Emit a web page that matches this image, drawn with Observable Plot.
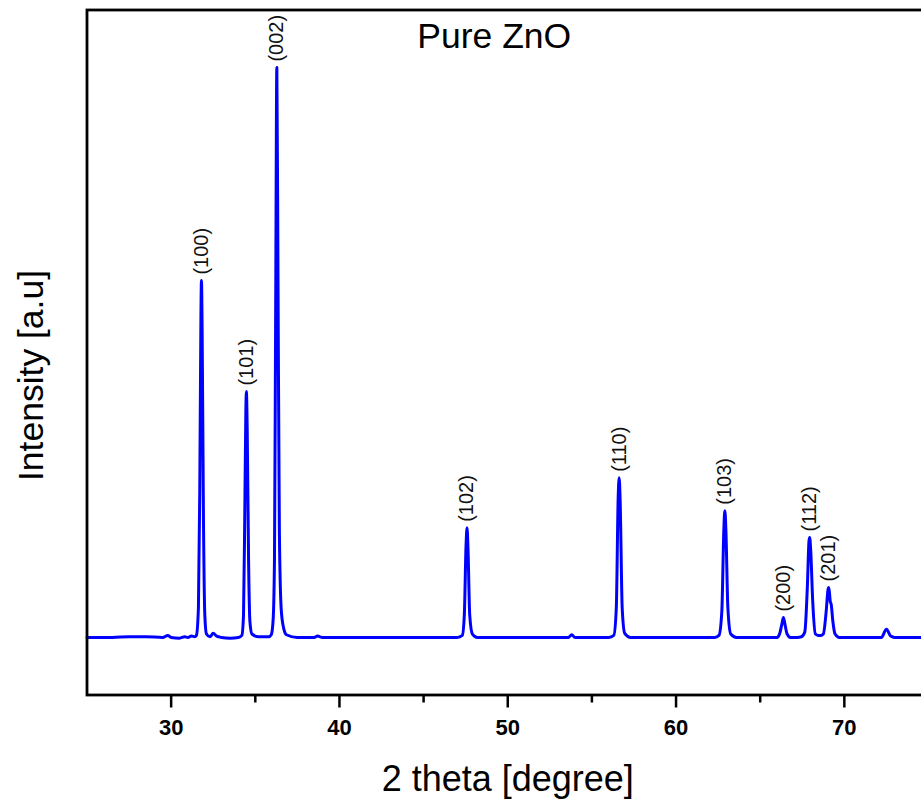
<!DOCTYPE html>
<html><head><meta charset="utf-8">
<script src="https://cdn.jsdelivr.net/npm/d3@7"></script>
<script src="https://cdn.jsdelivr.net/npm/@observablehq/plot@0.6"></script>
<style>
html,body{margin:0;padding:0;background:#fff;overflow:hidden;}
#chart svg{display:block;max-width:none !important;width:928px !important;height:799px !important;}
</style>
</head><body><div id="chart"></div>
<script>
// Diffractogram: 2-theta (degree) and intensity (a.u.)
const twoTheta = [
  25.0, 26.5, 27.5, 28.5, 29.5, 29.8, 30.0, 30.5, 30.8, 31.0, 31.2, 31.4,
  31.50, 31.62, 31.70, 31.77, 31.80, 31.84, 31.92, 32.00, 32.10, 32.30, 32.50, 32.70, 33.0, 33.5, 34.0, 34.20,
  34.30, 34.38, 34.44, 34.47, 34.52, 34.60, 34.68, 34.80, 35.2, 35.8,
  35.95, 36.06, 36.14, 36.21, 36.28, 36.35, 36.43, 36.54, 36.68, 36.85, 37.5, 38.5, 38.7, 39.0, 40.0, 42.0, 44.0, 46.0, 47.0,
  47.30, 47.42, 47.52, 47.58, 47.64, 47.74, 47.90, 48.2, 50.0, 52.0, 53.6, 53.8, 54.0, 56.0,
  56.30, 56.45, 56.56, 56.62, 56.68, 56.80, 56.95, 57.3, 59.0, 61.0, 62.3,
  62.55, 62.72, 62.84, 62.90, 62.96, 63.08, 63.25, 63.6, 65.0, 66.0,
  66.15, 66.30, 66.38, 66.48, 66.60, 66.8, 67.2, 67.45,
  67.65, 67.80, 67.90, 67.94, 68.00, 68.12, 68.28, 68.45, 68.6,
  68.75, 68.92, 69.03, 69.08, 69.16, 69.22, 69.32, 69.45, 69.7, 71.0, 72.2, 72.5, 72.75, 73.0, 75.0
];
const intensity = [
  84, 84, 85, 85, 84, 87, 84, 83, 85, 84, 86, 85,
  87, 127, 297, 557, 605, 537, 257, 117, 89, 85, 90, 86, 84, 83, 84, 87,
  117, 277, 417, 443, 387, 197, 107, 89, 85, 85,
  88, 110, 200, 560, 916, 600, 240, 125, 98, 88, 84, 84, 86, 84, 84, 84, 84, 84, 84,
  87, 117, 217, 244, 212, 117, 89, 84, 84, 84, 84, 88, 84, 84,
  87, 127, 287, 317, 282, 127, 90, 84, 84, 84, 84,
  87, 122, 242, 269, 242, 127, 89, 84, 84, 84,
  89, 105, 113, 102, 89, 84, 84, 85,
  92, 157, 225, 230, 212, 137, 89, 87, 87,
  89, 122, 154, 157, 137, 132, 107, 89, 84, 84, 84, 96, 86, 84, 84
];
const peakLabels = ["(100)", "(101)", "(002)", "(102)", "(110)", "(103)", "(200)", "(112)", "(201)"];
const peakPositions = [31.80, 34.47, 36.28, 47.58, 56.62, 62.90, 66.38, 67.94, 69.08];
const peakHeights = [605, 443, 916, 244, 317, 269, 113, 230, 157];
const majorTicks = [30, 40, 50, 60, 70];
const minorTicks = [35, 45, 55, 65];

const curve = twoTheta.map((t, i) => ({t, v: intensity[i]}));
const peaks = peakLabels.map((label, i) => ({label, t: peakPositions[i], v: peakHeights[i]}));

const chart = Plot.plot({
  width: 928,
  height: 799,
  marginLeft: 86.5,
  marginRight: 0,
  marginTop: 9.5,
  marginBottom: 104.5,
  style: {fontFamily: "'Liberation Sans', Arial, sans-serif", background: "#fff", color: "#000", overflow: "visible"},
  x: {domain: [25, 75]},
  y: {domain: [0, 1000], axis: null},
  marks: [
    Plot.line(curve, {x: "t", y: "v", stroke: "#0000ff", strokeWidth: 3, curve: "monotone-x"}),
    Plot.text(peaks, {x: "t", y: "v", text: "label", rotate: -90, textAnchor: "start", lineAnchor: "middle", dy: -6, fontSize: 20, fill: "#111"}),
    Plot.axisX({ticks: majorTicks, tickSize: 13, tickPadding: 11, fontSize: 22, fontWeight: "bold", strokeWidth: 2.5, label: null, tickFormat: d => String(d)}),
    Plot.axisX({ticks: minorTicks, tickSize: 8, strokeWidth: 2.5, text: null, label: null}),
    Plot.frame({stroke: "#000", strokeWidth: 2.8}),
    Plot.text(["Pure ZnO"], {frameAnchor: "top", dx: -13.5, dy: 12.5, lineAnchor: "top", textAnchor: "middle", fontSize: 35.5, fill: "#000"}),
    Plot.text(["2 theta [degree]"], {frameAnchor: "bottom", dy: 96, lineAnchor: "bottom", textAnchor: "middle", fontSize: 36, fill: "#000"}),
    Plot.text(["Intensity [a.u]"], {frameAnchor: "left", dx: -44.5, dy: 23, rotate: -90, lineAnchor: "bottom", textAnchor: "middle", fontSize: 35.5, fill: "#000"})
  ]
});
document.getElementById("chart").append(chart);
</script>
</body></html>
